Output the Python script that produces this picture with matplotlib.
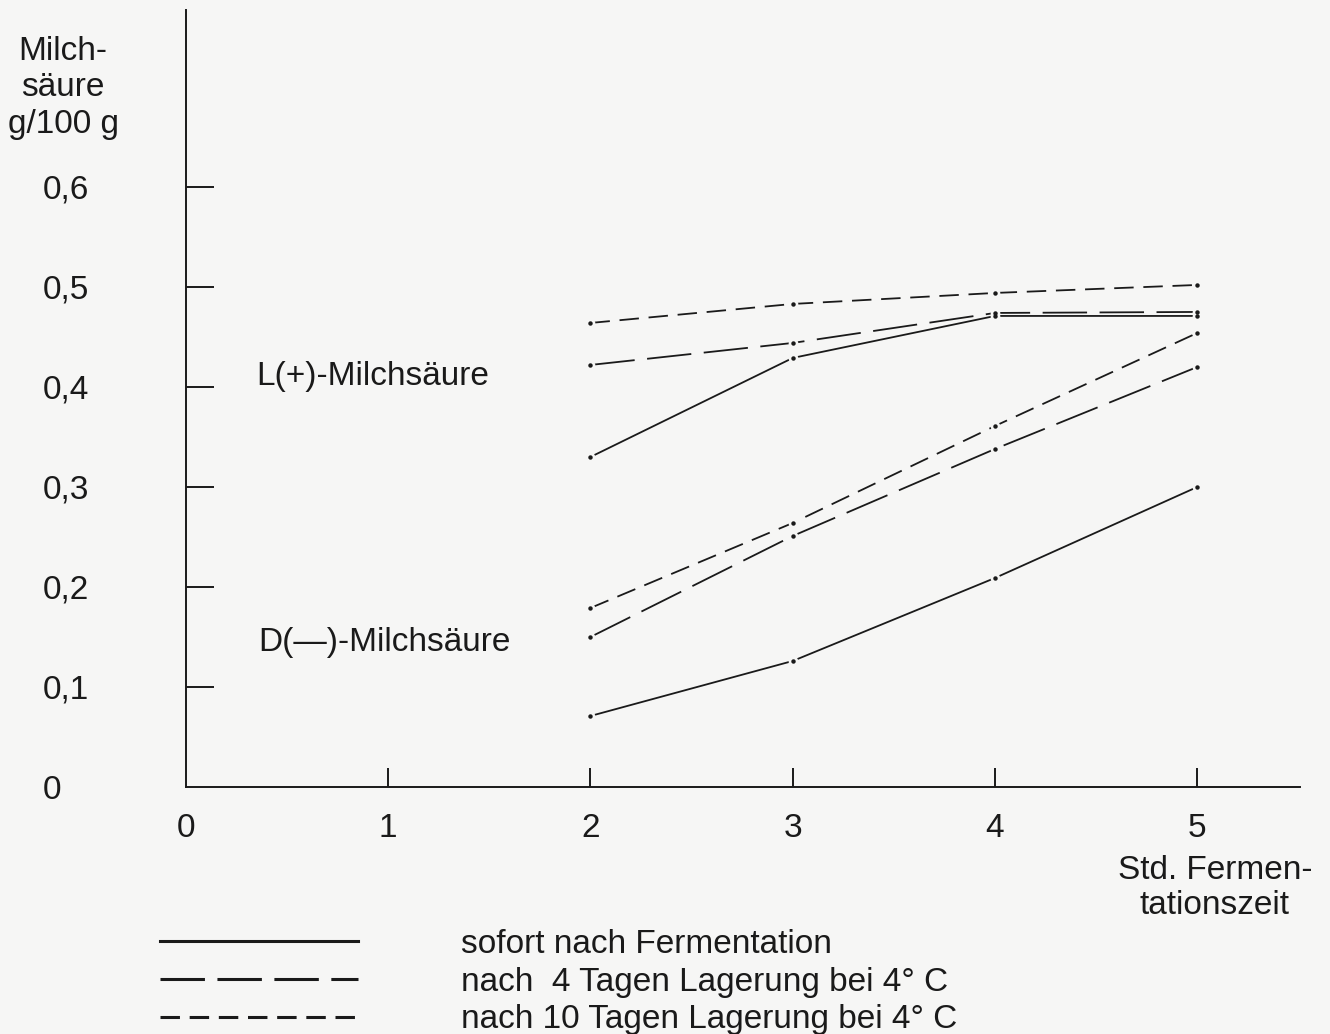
import numpy as np
import matplotlib
matplotlib.use("Agg")
import matplotlib.pyplot as plt
from matplotlib.lines import Line2D

plt.rcParams['font.family'] = ['Liberation Sans', 'DejaVu Sans']
plt.rcParams['lines.scale_dashes'] = False

# Std. Fermentationszeit
hours = [2, 3, 4, 5]

# L(+)-Milchsaeure, g/100 g
l_sofort = [0.330, 0.429, 0.471, 0.471]
l_4tage = [0.422, 0.444, 0.474, 0.475]
l_10tage = [0.464, 0.483, 0.494, 0.502]

# D(-)-Milchsaeure, g/100 g
d_sofort = [0.071, 0.126, 0.209, 0.300]
d_4tage = [0.150, 0.251, 0.338, 0.420]
d_10tage = [0.179, 0.264, 0.361, 0.454]

legend_labels = ["sofort nach Fermentation",
                 "nach  4 Tagen Lagerung bei 4\u00b0 C",
                 "nach 10 Tagen Lagerung bei 4\u00b0 C"]
xtick_vals = [0, 1, 2, 3, 4, 5]
ytick_vals = [0, 0.1, 0.2, 0.3, 0.4, 0.5, 0.6]
ytick_labels = ["0", "0,1", "0,2", "0,3", "0,4", "0,5", "0,6"]

ink = '#1a1a1a'
bg = '#f6f6f5'
fs = 24

styles = [dict(linestyle='-'),
          dict(linestyle=(0, (32, 9))),
          dict(linestyle=(0, (14, 7)))]

fig = plt.figure(figsize=(13.3, 10.34), dpi=100, facecolor=bg)
ax = fig.add_axes([0.1398, 0.2389, 0.838, 0.7515])
ax.set_facecolor(bg)

groups = [(l_sofort, l_4tage, l_10tage), (d_sofort, d_4tage, d_10tage)]
for grp in groups:
    for vals, st in zip(grp, styles):
        # background-coloured marker leaves the small gap round each dot
        ax.plot(hours, vals, color=ink, lw=1.3, marker='o', ms=7,
                mfc=bg, mec='none', **st)
for grp in groups:
    for vals in grp:
        ax.plot(hours, vals, ls='none', marker='o', ms=3.2, mfc=ink,
                mec='none', zorder=3)

ax.set_xlim(0, 5.51)
ax.set_ylim(0, 0.777)

for side in ('top', 'right'):
    ax.spines[side].set_visible(False)
for side in ('left', 'bottom'):
    ax.spines[side].set_color(ink)
    ax.spines[side].set_linewidth(1.4)

ax.set_xticks(xtick_vals)
ax.set_xticklabels([str(v) for v in xtick_vals])
ax.set_yticks(ytick_vals)
ax.set_yticklabels(ytick_labels)
ax.tick_params(axis='x', direction='in', length=14, width=1.4, color=ink,
               labelsize=fs, labelcolor=ink, pad=19)
ax.tick_params(axis='y', direction='in', length=20, width=1.4, color=ink,
               labelsize=fs, labelcolor=ink, pad=103)
for lab in ax.get_yticklabels():
    lab.set_horizontalalignment('left')
# first ticks sit on the other axis, not drawn
ax.xaxis.get_major_ticks()[0].tick1line.set_visible(False)
ax.yaxis.get_major_ticks()[0].tick1line.set_visible(False)

ax.text(0.346, 0.41, "L(+)-Milchs\u00e4ure", fontsize=fs, color=ink,
        ha='left', va='center')
ax.text(0.356, 0.144, "D(\u2014)-Milchs\u00e4ure", fontsize=fs, color=ink,
        ha='left', va='center')

fig.text(63 / 1330, 1 - 88 / 1034, "Milch-\ns\u00e4ure\ng/100 g", fontsize=fs,
         color=ink, ha='center', va='center', multialignment='center',
         linespacing=1.25)
fig.text(1215 / 1330, 1 - 888 / 1034, "Std. Fermen-\ntationszeit", fontsize=fs,
         color=ink, ha='center', va='center', multialignment='center',
         linespacing=1.18)

handles = [Line2D([], [], color=ink, lw=2.2, **st) for st in styles]
fig.legend(handles, legend_labels, loc='upper left',
           bbox_to_anchor=(160 / 1330, 1 - 929 / 1034), frameon=False,
           fontsize=fs, handlelength=5.94, handletextpad=3.08,
           labelspacing=0.2, borderpad=0, borderaxespad=0,
           labelcolor=ink)

fig.savefig("out.png", dpi=100, facecolor=bg)
